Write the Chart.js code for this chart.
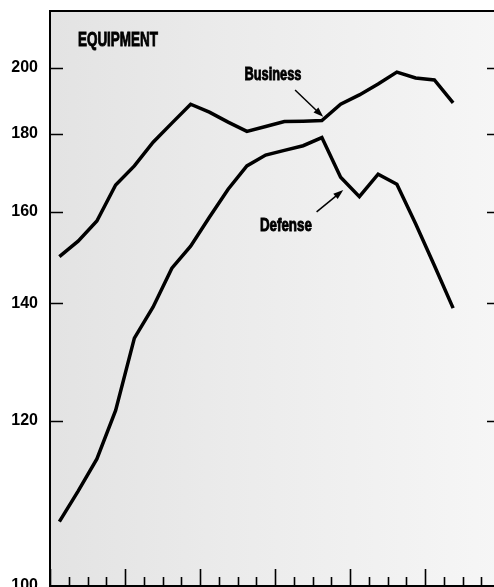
<!DOCTYPE html>
<html>
<head>
<meta charset="utf-8">
<script src="https://cdn.jsdelivr.net/npm/chart.js@4.4.1/dist/chart.umd.min.js"></script>
<style>
  html, body { margin: 0; padding: 0; background: #fff; overflow: hidden; width: 494px; height: 587px; }
  #c { position: absolute; left: 0; top: 0; }
</style>
</head>
<body>
<canvas id="c" width="510" height="600"></canvas>
<script>
// quarters, six years
const years = ['1', '2', '3', '4', '5', '6'];
const quarters = ['I', 'II', 'III', 'IV'];
const labels = years.flatMap(y => quarters.map(q => y + '-' + q));

// index values, one per quarter
const business = [150.2, 153.6, 158.0, 166.9, 171.8, 177.9, 183.3, 189.0, 186.6, 183.6, 180.8, 182.3,
                  183.8, 183.9, 184.1, 189.0, 191.8, 195.1, 198.7, 196.9, 196.3, 189.4, null, null];
const defense = [107.8, 111.5, 115.4, 121.8, 134.1, 139.4, 147.7, 152.5, 158.8, 165.8, 171.8, 174.6,
                 175.8, 177.0, 179.1, 168.9, 163.9, 169.7, 167.1, 157.4, 148.3, 139.2, null, null];
const yTicks = [100, 120, 140, 160, 180, 200];

// y axis of the original is not linear: each 20-point band gets its own height
class WarpedScale extends Chart.LinearScale {
    static id = 'warped';
    static defaults = Chart.LinearScale.defaults;

    knots() {
        const vals = [100, 120, 140, 160, 180, 200, 217];
        const sizes = [165, 117.4, 91.6, 77.7, 66.3, 56.7];
        const total = sizes.reduce((a, b) => a + b, 0);
        const fr = [0];
        sizes.forEach(s => fr.push(fr[fr.length - 1] + s / total));
        return { vals, fr };
    }
    buildTicks() {
        return yTicks.map(v => ({ value: v }));
    }
    getPixelForValue(value) {
        if (value === null || isNaN(value)) return NaN;
        const { vals, fr } = this.knots();
        let i = 0;
        while (i < vals.length - 2 && value > vals[i + 1]) i++;
        const d = fr[i] + (value - vals[i]) / (vals[i + 1] - vals[i]) * (fr[i + 1] - fr[i]);
        return this.getPixelForDecimal(d);
    }
    getValueForPixel(pixel) {
        const d = this.getDecimalForPixel(pixel);
        const { vals, fr } = this.knots();
        let i = 0;
        while (i < fr.length - 2 && d > fr[i + 1]) i++;
        return vals[i] + (d - fr[i]) / (fr[i + 1] - fr[i]) * (vals[i + 1] - vals[i]);
    }
}
Chart.register(WarpedScale);

const boldFont = '"Liberation Sans", Arial, sans-serif';

// text squeezed to the narrow width of the original lettering
function squeezed(ctx, text, x, y, size, width, align) {
    ctx.save();
    ctx.font = 'bold ' + size + 'px ' + boldFont;
    const w = ctx.measureText(text).width;
    const k = width / w;
    const left = align === 'center' ? x - width / 2 : x;
    ctx.translate(left, y);
    ctx.scale(k, 1);
    ctx.textAlign = 'left';
    ctx.textBaseline = 'middle';
    ctx.fillStyle = '#000';
    ctx.strokeStyle = '#000';
    ctx.lineWidth = 0.9;
    ctx.fillText(text, 0, 0);
    ctx.strokeText(text, 0, 0);
    ctx.restore();
}

// background stipple tone, frame, inward ticks and labels
const paper = {
    id: 'paper',
    beforeDraw(chart) {
        const { ctx, chartArea: a } = chart;
        const g = ctx.createLinearGradient(a.left, 0, a.right, 0);
        g.addColorStop(0, '#e3e3e3');
        g.addColorStop(0.45, '#ececec');
        g.addColorStop(1, '#f6f6f6');
        ctx.save();
        ctx.fillStyle = g;
        ctx.fillRect(a.left, a.top, a.right - a.left, a.bottom - a.top);
        ctx.restore();
    },
    afterDraw(chart) {
        const { ctx, chartArea: a } = chart;
        const xs = chart.scales.x, ys = chart.scales.y;
        ctx.save();
        ctx.strokeStyle = '#000';
        ctx.lineWidth = 2;
        ctx.strokeRect(a.left, a.top, a.right - a.left, a.bottom - a.top);

        ctx.lineWidth = 1.6;
        ctx.beginPath();
        for (let k = 0; k <= labels.length; k++) {
            const x = Math.round(xs.getPixelForValue(k - 0.5)) + 0.5;
            const len = k % 4 === 0 ? 17 : 9;
            ctx.moveTo(x, a.bottom);
            ctx.lineTo(x, a.bottom - len);
        }
        yTicks.slice(1).forEach(v => {
            const y = Math.round(ys.getPixelForValue(v)) + 0.5;
            ctx.moveTo(a.left, y); ctx.lineTo(a.left + 13, y);
            ctx.moveTo(a.right, y); ctx.lineTo(a.right - 13, y);
        });
        ctx.stroke();

        const px = (i, v) => [xs.getPixelForValue(i), ys.getPixelForValue(v)];
        ctx.fillStyle = '#000';

        let p = px(0.99, 208.2);
        squeezed(ctx, 'EQUIPMENT', p[0], p[1], 20, 80, 'left');
        p = px(11.39, 197.8);
        squeezed(ctx, 'Business', p[0], p[1], 18, 57, 'center');
        p = px(12.08, 156.9);
        squeezed(ctx, 'Defense', p[0], p[1], 18, 52, 'center');

        const arrow = (from, to) => {
            const [x0, y0] = from, [x1, y1] = to;
            const ang = Math.atan2(y1 - y0, x1 - x0);
            ctx.lineWidth = 1.5;
            ctx.beginPath();
            ctx.moveTo(x0, y0);
            ctx.lineTo(x1 - 6 * Math.cos(ang), y1 - 6 * Math.sin(ang));
            ctx.stroke();
            ctx.beginPath();
            ctx.moveTo(x1, y1);
            ctx.lineTo(x1 - 10 * Math.cos(ang) + 3.5 * Math.sin(ang), y1 - 10 * Math.sin(ang) - 3.5 * Math.cos(ang));
            ctx.lineTo(x1 - 10 * Math.cos(ang) - 3.5 * Math.sin(ang), y1 - 10 * Math.sin(ang) + 3.5 * Math.cos(ang));
            ctx.closePath();
            ctx.fill();
        };
        arrow(px(12.57, 193.3), px(14.07, 185.2));
        arrow(px(13.72, 160.0), px(15.14, 165.6));
        ctx.restore();
    }
};

new Chart(document.getElementById('c'), {
    type: 'line',
    data: {
        labels: labels,
        datasets: [
            { label: 'Business', data: business, borderColor: '#000', borderWidth: 3.5, pointRadius: 0, tension: 0 },
            { label: 'Defense', data: defense, borderColor: '#000', borderWidth: 3.5, pointRadius: 0, tension: 0 }
        ]
    },
    options: {
        responsive: false,
        animation: false,
        devicePixelRatio: 1,
        layout: { padding: { top: 11, right: 10, left: 0, bottom: 0 } },
        plugins: { legend: { display: false }, tooltip: { enabled: false } },
        scales: {
            x: {
                type: 'category',
                offset: true,
                grid: { display: false },
                border: { display: false },
                ticks: { display: false },
                afterFit: s => { s.height = 14; s.paddingLeft = 0; s.paddingRight = 0; }
            },
            y: {
                type: 'warped',
                min: 100,
                max: 217,
                grid: { display: false, drawTicks: false },
                border: { display: false },
                ticks: {
                    color: '#000',
                    padding: 12,
                    font: { family: boldFont, size: 16, weight: 'bold' }
                },
                afterFit: s => { s.width = 50; s.paddingTop = 0; s.paddingBottom = 0; }
            }
        }
    },
    plugins: [paper]
});
</script>
</body>
</html>
